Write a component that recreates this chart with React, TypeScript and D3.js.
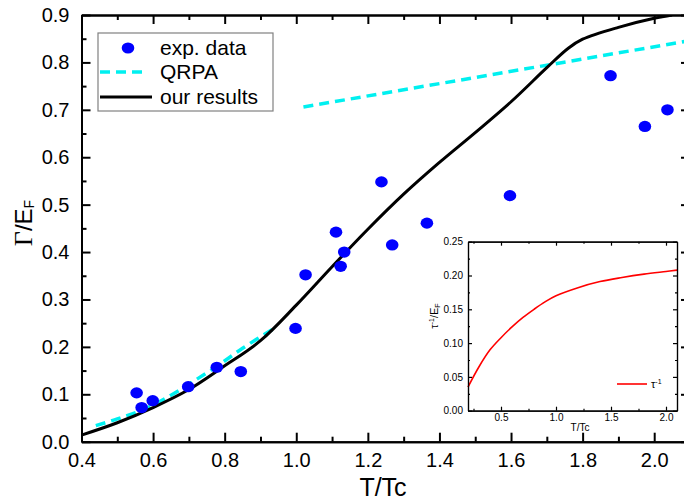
import React, { useRef, useEffect } from "react";
import * as d3 from "d3";

const W = 684;
const H = 502;

// experimental points (T/Tc, Γ/EF)
const expT = [0.554, 0.568, 0.599, 0.698, 0.778, 0.845, 0.998, 1.026, 1.111, 1.124, 1.134, 1.238, 1.268, 1.365, 1.597, 1.878, 1.974, 2.037];
const expG = [0.103, 0.072, 0.0865, 0.116, 0.157, 0.148, 0.239, 0.352, 0.442, 0.37, 0.4, 0.548, 0.415, 0.461, 0.519, 0.772, 0.665, 0.7];

// our results curve
const ourT = [0.4, 0.5, 0.6, 0.7, 0.8, 0.9, 1.0, 1.1, 1.2, 1.3, 1.4, 1.5, 1.6, 1.7, 1.76, 1.8, 1.9, 2.0, 2.05];
const ourG = [0.014, 0.04, 0.072, 0.11, 0.16, 0.213, 0.288, 0.369, 0.448, 0.522, 0.589, 0.652, 0.717, 0.789, 0.83, 0.849, 0.874, 0.893, 0.9];

// QRPA, two pieces
const qrpaLowT = [0.44, 0.5, 0.57, 0.65, 0.71, 0.78, 0.85, 0.94];
const qrpaLowG = [0.034, 0.048, 0.067, 0.098, 0.126, 0.16, 0.197, 0.24];
const qrpaHighT = [1.02, 2.1];
const qrpaHighG = [0.706, 0.846];

// inset τ^-1 curve
const tauT = [0.2, 0.3, 0.4, 0.5, 0.6, 0.7, 0.8, 0.9, 1.0, 1.2, 1.4, 1.6, 1.8, 2.0, 2.1];
const tauV = [0.035, 0.065, 0.09, 0.108, 0.124, 0.138, 0.15, 0.161, 0.17, 0.182, 0.191, 0.197, 0.202, 0.206, 0.208];

const xTicks = [0.4, 0.6, 0.8, 1.0, 1.2, 1.4, 1.6, 1.8, 2.0];
const xMinor = [0.5, 0.7, 0.9, 1.1, 1.3, 1.5, 1.7, 1.9, 2.1];
const yTicks = [0, 0.1, 0.2, 0.3, 0.4, 0.5, 0.6, 0.7, 0.8, 0.9];
const yMinor = [0.05, 0.15, 0.25, 0.35, 0.45, 0.55, 0.65, 0.75, 0.85];

const insXTicks = [0.5, 1.0, 1.5, 2.0];
const insXMinor = [0.25, 0.75, 1.25, 1.75];
const insYTicks = [0, 0.05, 0.1, 0.15, 0.2, 0.25];
const insYMinor = [0.025, 0.075, 0.125, 0.175, 0.225];

const FONT = "'Liberation Sans', Arial, Helvetica, sans-serif";
const PLOT = { left: 81.5, right: 690, top: 15, bottom: 441.7 };
const INSET = { left: 468, right: 677, top: 241.7, bottom: 410.7 };

function frame(g, x, y, opts) {
  const { major, minor, pad, fmtX, fmtY, xMajor, xMin, yMajor, yMin, font, width } = opts;
  const [x0, x1] = x.range();
  const [y0, y1] = y.range();
  const style = (sel) => {
    sel.select(".domain").attr("stroke", "#000").attr("stroke-width", width);
    sel.selectAll(".tick line").attr("stroke", "#000").attr("stroke-width", width);
    sel.selectAll("text").attr("font-family", FONT).attr("font-size", font).attr("fill", "#000");
  };
  const addMinor = (axisFn, scale, vals) => axisFn(scale).tickValues(vals).tickSize(-minor).tickFormat(() => "").tickSizeOuter(0);

  g.append("g").attr("transform", `translate(0,${y0})`)
    .call(d3.axisBottom(x).tickValues(xMajor).tickFormat(fmtX).tickSize(-major).tickPadding(pad[0]).tickSizeOuter(0)).call(style);
  g.append("g").attr("transform", `translate(0,${y0})`).call(addMinor(d3.axisBottom, x, xMin)).call(style);
  g.append("g").attr("transform", `translate(0,${y1})`)
    .call(d3.axisTop(x).tickValues(xMajor).tickFormat(() => "").tickSize(-major).tickSizeOuter(0)).call(style);
  g.append("g").attr("transform", `translate(0,${y1})`).call(addMinor(d3.axisTop, x, xMin)).call(style);

  g.append("g").attr("transform", `translate(${x0},0)`)
    .call(d3.axisLeft(y).tickValues(yMajor).tickFormat(fmtY).tickSize(-major).tickPadding(pad[1]).tickSizeOuter(0)).call(style);
  g.append("g").attr("transform", `translate(${x0},0)`).call(addMinor(d3.axisLeft, y, yMin)).call(style);
  g.append("g").attr("transform", `translate(${x1},0)`)
    .call(d3.axisRight(y).tickValues(yMajor).tickFormat(() => "").tickSize(-major).tickSizeOuter(0)).call(style);
  g.append("g").attr("transform", `translate(${x1},0)`).call(addMinor(d3.axisRight, y, yMin)).call(style);
}

export default function App() {
  const ref = useRef(null);

  useEffect(() => {
    const svg = d3.select(ref.current);
    svg.selectAll("*").remove();

    const x = d3.scaleLinear().domain([0.4, 2.1]).range([PLOT.left, PLOT.right]);
    const y = d3.scaleLinear().domain([0, 0.9]).range([PLOT.bottom, PLOT.top]);

    svg.append("rect").attr("width", W).attr("height", H).attr("fill", "#fff");

    svg.append("defs").append("clipPath").attr("id", "plotclip")
      .append("rect").attr("x", PLOT.left).attr("y", PLOT.top)
      .attr("width", PLOT.right - PLOT.left).attr("height", PLOT.bottom - PLOT.top);

    const plot = svg.append("g").attr("clip-path", "url(#plotclip)");

    const line = d3.line().x((d) => x(d[0])).y((d) => y(d[1])).curve(d3.curveCatmullRom.alpha(0.5));

    // QRPA dashed
    [[qrpaLowT, qrpaLowG], [qrpaHighT, qrpaHighG]].forEach(([ts, gs]) => {
      plot.append("path")
        .attr("d", line(ts.map((t, i) => [t, gs[i]])))
        .attr("fill", "none")
        .attr("stroke", "#00f0f0")
        .attr("stroke-width", 3.5)
        .attr("stroke-dasharray", "10,6");
    });

    // our results
    plot.append("path")
      .attr("d", line(ourT.map((t, i) => [t, ourG[i]])))
      .attr("fill", "none")
      .attr("stroke", "#000")
      .attr("stroke-width", 3);

    // experimental data
    plot.selectAll("ellipse.exp")
      .data(expT.map((t, i) => [t, expG[i]]))
      .join("ellipse")
      .attr("class", "exp")
      .attr("cx", (d) => x(d[0]))
      .attr("cy", (d) => y(d[1]))
      .attr("rx", 6.3)
      .attr("ry", 5.6)
      .attr("fill", "#0000ff");

    // main axes
    frame(svg.append("g"), x, y, {
      major: 9, minor: 5, pad: [11, 12], width: 2, font: 20,
      fmtX: d3.format(".1f"), fmtY: d3.format(".1f"),
      xMajor: xTicks, xMin: xMinor, yMajor: yTicks, yMin: yMinor,
    });

    // axis titles
    svg.append("text")
      .attr("x", 383).attr("y", 496)
      .attr("text-anchor", "middle")
      .attr("font-family", FONT).attr("font-size", 25)
      .text("T/Tc");

    const yt = svg.append("text")
      .attr("transform", "translate(32,223) rotate(-90)")
      .attr("text-anchor", "middle")
      .attr("font-family", FONT).attr("font-size", 24);
    yt.append("tspan").attr("font-family", "'Liberation Serif', 'Times New Roman', serif").attr("font-size", 26).text("Γ");
    yt.append("tspan").text("/E");
    yt.append("tspan").attr("font-size", 14).attr("dy", 2).text("F");

    // legend
    const lg = svg.append("g");
    lg.append("rect").attr("x", 98).attr("y", 33).attr("width", 175).attr("height", 78)
      .attr("fill", "#fff").attr("stroke", "#808080").attr("stroke-width", 1.2);
    const rows = [
      { label: "exp. data", y: 48 },
      { label: "QRPA", y: 72 },
      { label: "our results", y: 97 },
    ];
    lg.append("ellipse").attr("cx", 128).attr("cy", rows[0].y).attr("rx", 6.3).attr("ry", 5.6).attr("fill", "#0000ff");
    lg.append("line").attr("x1", 100).attr("x2", 148).attr("y1", rows[1].y).attr("y2", rows[1].y)
      .attr("stroke", "#00f0f0").attr("stroke-width", 3.5).attr("stroke-dasharray", "10,6");
    lg.append("line").attr("x1", 100).attr("x2", 152).attr("y1", rows[2].y).attr("y2", rows[2].y)
      .attr("stroke", "#000").attr("stroke-width", 3);
    rows.forEach((r) => {
      lg.append("text").attr("x", 160).attr("y", r.y).attr("dy", "0.35em")
        .attr("font-family", FONT).attr("font-size", 21).text(r.label);
    });

    // inset
    const ix = d3.scaleLinear().domain([0.2, 2.1]).range([INSET.left, INSET.right]);
    const iy = d3.scaleLinear().domain([0, 0.25]).range([INSET.bottom, INSET.top]);
    const ins = svg.append("g");
    ins.append("rect").attr("x", INSET.left).attr("y", INSET.top)
      .attr("width", INSET.right - INSET.left).attr("height", INSET.bottom - INSET.top)
      .attr("fill", "#fff");

    const iline = d3.line().x((d) => ix(d[0])).y((d) => iy(d[1])).curve(d3.curveCatmullRom.alpha(0.5));
    ins.append("path")
      .attr("d", iline(tauT.map((t, i) => [t, tauV[i]])))
      .attr("fill", "none").attr("stroke", "#ff0000").attr("stroke-width", 1.6);

    frame(ins.append("g"), ix, iy, {
      major: 4, minor: 2, pad: [3, 5], width: 1.2, font: 10,
      fmtX: d3.format(".1f"), fmtY: d3.format(".2f"),
      xMajor: insXTicks, xMin: insXMinor, yMajor: insYTicks, yMin: insYMinor,
    });

    ins.append("text").attr("x", 580).attr("y", 431).attr("text-anchor", "middle")
      .attr("font-family", FONT).attr("font-size", 10).text("T/Tc");

    const it = ins.append("text")
      .attr("transform", "translate(438,316) rotate(-90)")
      .attr("text-anchor", "middle")
      .attr("font-family", FONT).attr("font-size", 11);
    it.append("tspan").text("τ");
    it.append("tspan").attr("font-size", 7).attr("dy", -4).text("-1");
    it.append("tspan").attr("dy", 4).text("/E");
    it.append("tspan").attr("font-size", 7).attr("dy", 1.5).text("F");

    // inset legend
    ins.append("line").attr("x1", 617).attr("x2", 647).attr("y1", 384).attr("y2", 384)
      .attr("stroke", "#ff0000").attr("stroke-width", 1.6);
    const il = ins.append("text").attr("x", 651).attr("y", 388)
      .attr("font-family", FONT).attr("font-size", 11);
    il.append("tspan").text("τ");
    il.append("tspan").attr("font-size", 7).attr("dy", -4).text("-1");
  }, []);

  return (
    <svg
      ref={ref}
      width={W}
      height={H}
      style={{ position: "absolute", left: 0, top: 0, display: "block" }}
    />
  );
}
